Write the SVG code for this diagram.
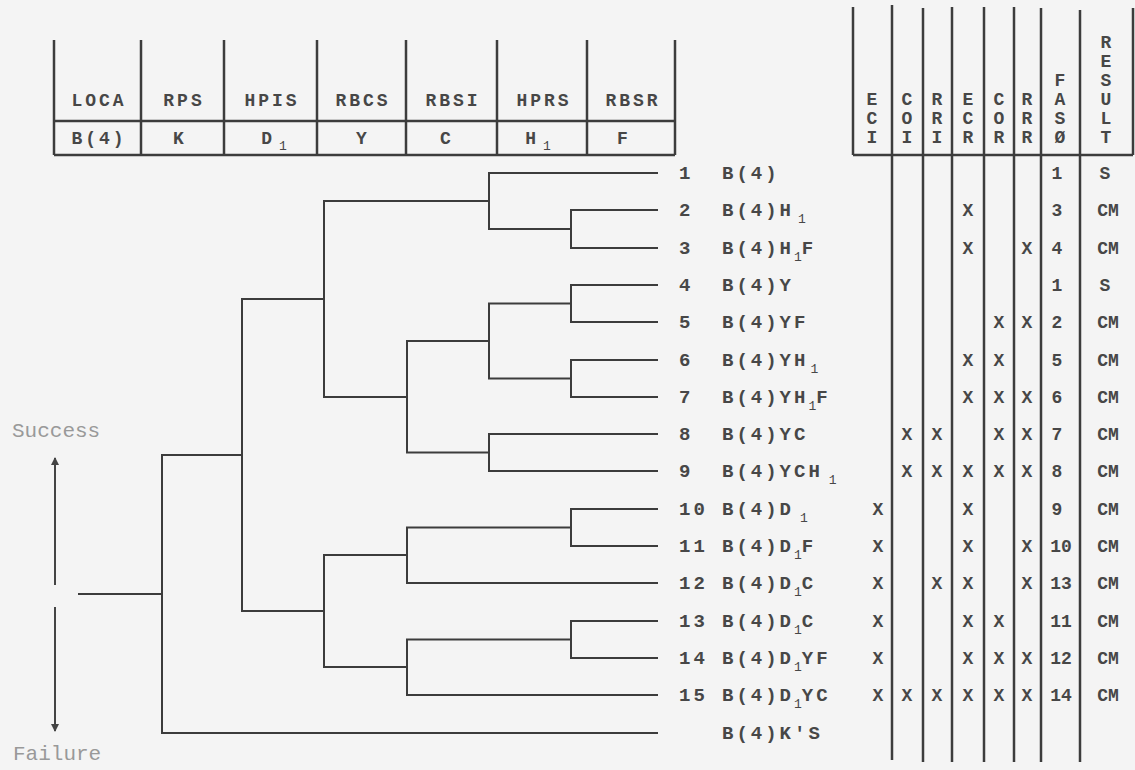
<svg xmlns="http://www.w3.org/2000/svg" width="1135" height="770" viewBox="0 0 1135 770">
<defs>
<style>
.bg{fill:#f4f4f4}
.ln{stroke:#3c3c3c;stroke-width:2;fill:none;stroke-linecap:square}
.tb{stroke:#3c3c3c;stroke-width:2.5;fill:none}
.t{font-family:"Liberation Mono",monospace;font-size:19px;font-weight:bold;fill:#474747;letter-spacing:3px}
.h{font-family:"Liberation Mono",monospace;font-size:18px;font-weight:bold;fill:#474747;letter-spacing:3px;text-anchor:middle}
.v{font-family:"Liberation Mono",monospace;font-size:18px;font-weight:bold;fill:#474747;text-anchor:middle}
.s{font-size:13px;letter-spacing:0;font-weight:normal}
.lab{font-family:"Liberation Mono",monospace;font-size:21px;fill:#999}
.arr{stroke:#444;stroke-width:2;fill:none}
</style>
<marker id="ah" markerWidth="8" markerHeight="10" refX="7" refY="5" orient="auto" markerUnits="userSpaceOnUse">
<path d="M0,1 L8,5 L0,9 Z" fill="#444"/>
</marker>
</defs>
<rect class="bg" x="0" y="0" width="1135" height="770"/>

<g id="header-left">
<path class="tb" d="M54,40V155M141,40V155M224,40V155M317,40V155M406,40V155M497,40V155M587,40V155M675,40V155M54,121H675M54,155H675"/>
<text class="h" x="99" y="106">LOCA</text>
<text class="h" x="184" y="106">RPS</text>
<text class="h" x="272" y="106">HPIS</text>
<text class="h" x="363" y="106">RBCS</text>
<text class="h" x="453" y="106">RBSI</text>
<text class="h" x="544" y="106">HPRS</text>
<text class="h" x="633" y="106">RBSR</text>
<text class="h" x="99" y="144">B(4)</text>
<text class="h" x="180" y="144">K</text>
<text class="h" x="274" y="144">D<tspan class="s" dx="4" dy="6">1</tspan></text>
<text class="h" x="363" y="144">Y</text>
<text class="h" x="447" y="144">C</text>
<text class="h" x="538" y="144">H<tspan class="s" dx="4" dy="6">1</tspan></text>
<text class="h" x="624" y="144">F</text>
</g>

<g id="header-right">
<path class="tb" d="M853,7V155M892,5V760M923,8V762M952,7V762M984,7V762M1014,7V762M1041,8V762M1080,10V762M1133,8V155M853,155H1133"/>
<text class="v" x="872" y="105">E</text><text class="v" x="872" y="124">C</text><text class="v" x="872" y="143">I</text>
<text class="v" x="907" y="105">C</text><text class="v" x="907" y="124">O</text><text class="v" x="907" y="143">I</text>
<text class="v" x="937" y="105">R</text><text class="v" x="937" y="124">R</text><text class="v" x="937" y="143">I</text>
<text class="v" x="968" y="105">E</text><text class="v" x="968" y="124">C</text><text class="v" x="968" y="143">R</text>
<text class="v" x="999" y="105">C</text><text class="v" x="999" y="124">O</text><text class="v" x="999" y="143">R</text>
<text class="v" x="1027" y="105">R</text><text class="v" x="1027" y="124">R</text><text class="v" x="1027" y="143">R</text>
<text class="v" x="1060" y="86">F</text><text class="v" x="1060" y="105">A</text><text class="v" x="1060" y="124">S</text><text class="v" x="1060" y="143">Ø</text>
<text class="v" x="1106" y="48">R</text><text class="v" x="1106" y="67">E</text><text class="v" x="1106" y="86">S</text><text class="v" x="1106" y="105">U</text><text class="v" x="1106" y="124">L</text><text class="v" x="1106" y="143">T</text>
</g>

<g id="connectors">
<path class="ln" d="M79,594H162M162,455V733H657M162,455H242"/>
<path class="ln" d="M242,299V611M242,299H324M242,611H324"/>
<path class="ln" d="M324,201V397M324,201H489M324,397H407"/>
<path class="ln" d="M489,173V229M489,173H657M489,229H571M571,210V248M571,210H657M571,248H657"/>
<path class="ln" d="M407,341V452.5M407,341H489M407,452.5H489"/>
<path class="ln" d="M489,303.5V378.5M489,303.5H571M489,378.5H571"/>
<path class="ln" d="M571,285V322M571,285H657M571,322H657M571,360V397M571,360H657M571,397H657"/>
<path class="ln" d="M489,434V471M489,434H657M489,471H657"/>
<path class="ln" d="M324,555V667M324,555H407M324,667H407"/>
<path class="ln" d="M407,527.5V583M407,527.5H571M407,583H657M571,509V546M571,509H657M571,546H657"/>
<path class="ln" d="M407,639.5V695M407,639.5H571M407,695H657M571,621V658M571,621H657M571,658H657"/>
</g>

<g id="axis">
<line class="arr" x1="55" y1="585" x2="55" y2="458" marker-end="url(#ah)"/>
<line class="arr" x1="55" y1="607" x2="55" y2="731" marker-end="url(#ah)"/>
<text class="lab" x="12" y="437">Success</text>
<text class="lab" x="13" y="760">Failure</text>
</g>

<g id="rows">
<text class="t" x="679" y="179">1</text><text class="t" x="722" y="179">B(4)</text>
<text class="t" x="679" y="216">2</text><text class="t" x="722" y="216">B(4)H<tspan class="s" dx="4" dy="7">1</tspan></text>
<text class="t" x="679" y="254">3</text><text class="t" x="722" y="254">B(4)H<tspan class="s" dy="7">1</tspan><tspan dy="-7">F</tspan></text>
<text class="t" x="679" y="291">4</text><text class="t" x="722" y="291">B(4)Y</text>
<text class="t" x="679" y="328">5</text><text class="t" x="722" y="328">B(4)YF</text>
<text class="t" x="679" y="366">6</text><text class="t" x="722" y="366">B(4)YH<tspan class="s" dx="2" dy="7">1</tspan></text>
<text class="t" x="679" y="403">7</text><text class="t" x="722" y="403">B(4)YH<tspan class="s" dy="7">1</tspan><tspan dy="-7">F</tspan></text>
<text class="t" x="679" y="440">8</text><text class="t" x="722" y="440">B(4)YC</text>
<text class="t" x="679" y="477">9</text><text class="t" x="722" y="477">B(4)YCH<tspan class="s" dx="6" dy="7">1</tspan></text>
<text class="t" x="679" y="515">10</text><text class="t" x="722" y="515">B(4)D<tspan class="s" dx="6" dy="7">1</tspan></text>
<text class="t" x="679" y="552">11</text><text class="t" x="722" y="552">B(4)D<tspan class="s" dy="7">1</tspan><tspan dy="-7">F</tspan></text>
<text class="t" x="679" y="589">12</text><text class="t" x="722" y="589">B(4)D<tspan class="s" dy="7">1</tspan><tspan dy="-7">C</tspan></text>
<text class="t" x="679" y="627">13</text><text class="t" x="722" y="627">B(4)D<tspan class="s" dy="7">1</tspan><tspan dy="-7">C</tspan></text>
<text class="t" x="679" y="664">14</text><text class="t" x="722" y="664">B(4)D<tspan class="s" dy="7">1</tspan><tspan dy="-7">YF</tspan></text>
<text class="t" x="679" y="701">15</text><text class="t" x="722" y="701">B(4)D<tspan class="s" dy="7">1</tspan><tspan dy="-7">YC</tspan></text>
<text class="t" x="722" y="739">B(4)K'S</text>
</g>

<g id="table-body" class="v">
<text x="1057" y="179">1</text><text x="1105" y="179">S</text>
<text x="968" y="216">X</text><text x="1057" y="216">3</text><text x="1108" y="216">CM</text>
<text x="968" y="254">X</text><text x="1027" y="254">X</text><text x="1057" y="254">4</text><text x="1108" y="254">CM</text>
<text x="1057" y="291">1</text><text x="1105" y="291">S</text>
<text x="999" y="328">X</text><text x="1027" y="328">X</text><text x="1057" y="328">2</text><text x="1108" y="328">CM</text>
<text x="968" y="366">X</text><text x="999" y="366">X</text><text x="1057" y="366">5</text><text x="1108" y="366">CM</text>
<text x="968" y="403">X</text><text x="999" y="403">X</text><text x="1027" y="403">X</text><text x="1057" y="403">6</text><text x="1108" y="403">CM</text>
<text x="907" y="440">X</text><text x="937" y="440">X</text><text x="999" y="440">X</text><text x="1027" y="440">X</text><text x="1057" y="440">7</text><text x="1108" y="440">CM</text>
<text x="907" y="477">X</text><text x="937" y="477">X</text><text x="968" y="477">X</text><text x="999" y="477">X</text><text x="1027" y="477">X</text><text x="1057" y="477">8</text><text x="1108" y="477">CM</text>
<text x="878" y="515">X</text><text x="968" y="515">X</text><text x="1057" y="515">9</text><text x="1108" y="515">CM</text>
<text x="878" y="552">X</text><text x="968" y="552">X</text><text x="1027" y="552">X</text><text x="1061" y="552">10</text><text x="1108" y="552">CM</text>
<text x="878" y="589">X</text><text x="937" y="589">X</text><text x="968" y="589">X</text><text x="1027" y="589">X</text><text x="1061" y="589">13</text><text x="1108" y="589">CM</text>
<text x="878" y="627">X</text><text x="968" y="627">X</text><text x="999" y="627">X</text><text x="1061" y="627">11</text><text x="1108" y="627">CM</text>
<text x="878" y="664">X</text><text x="968" y="664">X</text><text x="999" y="664">X</text><text x="1027" y="664">X</text><text x="1061" y="664">12</text><text x="1108" y="664">CM</text>
<text x="878" y="701">X</text><text x="907" y="701">X</text><text x="937" y="701">X</text><text x="968" y="701">X</text><text x="999" y="701">X</text><text x="1027" y="701">X</text><text x="1061" y="701">14</text><text x="1108" y="701">CM</text>
</g>
</svg>
